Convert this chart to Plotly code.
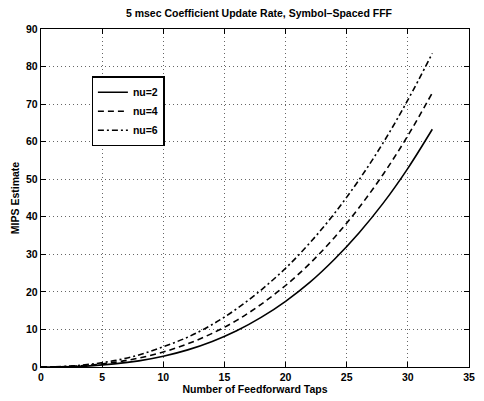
import plotly.graph_objects as go

taps = [0, 2, 4, 6, 8, 10, 12, 14, 16, 18, 20, 22, 24, 26, 28, 30, 32]
mips_nu2 = [0, 0.07, 0.31, 0.82, 1.64, 2.87, 4.56, 6.80, 9.65, 13.2, 17.5, 22.6, 28.7, 35.7, 43.7, 52.9, 63.3]
mips_nu4 = [0, 0.11, 0.51, 1.24, 2.38, 4.0, 6.18, 8.96, 12.4, 16.7, 21.7, 27.6, 34.5, 42.4, 51.4, 61.6, 73.0]
mips_nu6 = [0, 0.17, 0.72, 1.70, 3.20, 5.4, 7.95, 11.3, 15.5, 20.5, 26.3, 33.1, 40.9, 49.8, 59.8, 71.1, 83.5]
series_names = ["nu=2", "nu=4", "nu=6"]
x_ticks = [0, 5, 10, 15, 20, 25, 30, 35]
y_ticks = [0, 10, 20, 30, 40, 50, 60, 70, 80, 90]

FONT = "Arial, Liberation Sans, sans-serif"
TXT = dict(family=FONT, size=10.5, color="black", weight="bold")

fig = go.Figure()
for name, ys, dash in zip(series_names, [mips_nu2, mips_nu4, mips_nu6],
                          ["solid", "6px,4px", "6px,3px,2px,3px"]):
    fig.add_trace(go.Scatter(x=taps, y=ys, mode="lines", name=name,
                             line=dict(color="black", width=1.6, dash=dash, shape="spline")))

axis_common = dict(
    showline=True, linecolor="black", linewidth=1.4, mirror="allticks",
    ticks="inside", ticklen=5, tickcolor="black", tickwidth=1.2,
    showgrid=True, gridcolor="#666", griddash="1px,3px", gridwidth=1,
    zeroline=False, tickfont=TXT,
)

fig.update_layout(
    width=484, height=401,
    margin=dict(l=41, r=9, t=29, b=30),
    paper_bgcolor="white", plot_bgcolor="white",
    title=dict(text="5 msec Coefficient Update Rate, Symbol\u2013Spaced FFF",
               x=0.535, xanchor="center", y=0.975, yanchor="top", font=TXT),
    xaxis=dict(range=[0, 35], tickvals=x_ticks, **axis_common,
               title=dict(text="Number of Feedforward Taps", standoff=2, font=TXT)),
    yaxis=dict(range=[0, 90], tickvals=y_ticks, **axis_common,
               title=dict(text="MIPS Estimate", standoff=4, font=TXT)),
    legend=dict(x=0.118, y=0.86, xanchor="left", yanchor="top",
                bgcolor="white", bordercolor="black", borderwidth=1.4,
                font=TXT, tracegroupgap=6, itemwidth=30),
    showlegend=True,
)

fig.write_html("out.html")
